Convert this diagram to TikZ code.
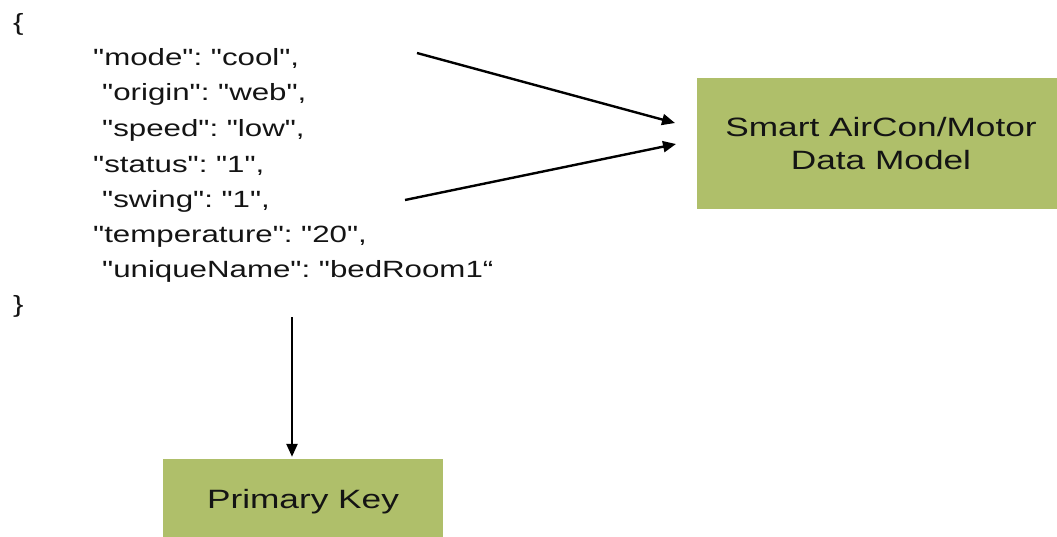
\documentclass[tikz,border=0pt]{standalone}
\usepackage{fontspec}
\setmainfont{Liberation Sans}[FakeStretch=1.33,Ligatures=TeXOff]
\usetikzlibrary{arrows.meta}
\definecolor{boxgreen}{RGB}{175,191,106}
\definecolor{inktext}{RGB}{20,20,20}
\frenchspacing
\begin{document}
\begin{tikzpicture}[x=1pt,y=-1pt,
  jsonline/.style={anchor=base west,inner sep=0pt,text=inktext,
    font=\fontsize{23.5}{35}\selectfont},
  greenbox/.style={rectangle,fill=boxgreen,draw=none,inner sep=0pt,
    align=center,text=inktext,font=\fontsize{26.5}{33}\selectfont},
  link/.style={draw=black,line width=2.4pt,
    -{Triangle[length=13pt,width=11pt]}}]
\useasboundingbox (0,0) rectangle (1057,536);

% JSON record
\node[jsonline] (open)  at (13,30)  {\{};
\node[jsonline] (mode)  at (93,65)  {"mode": "cool",};
\node[jsonline] (orig)  at (102,100) {"origin": "web",};
\node[jsonline] (speed) at (102,136) {"speed": "low",};
\node[jsonline] (stat)  at (93,172) {"status": "1",};
\node[jsonline] (swing) at (102,207) {"swing": "1",};
\node[jsonline] (temp)  at (93,242) {"temperature": "20",};
\node[jsonline] (uname) at (102,277) {"uniqueName": "bedRoom1“};
\node[jsonline] (close) at (13,312) {\}};

% target boxes
\node[greenbox,minimum width=368pt,minimum height=131pt] (model) at (881,143.5)
  {Smart AirCon/Motor\\Data Model};
\node[greenbox,minimum width=280pt,minimum height=86pt] (pkey) at (303,502)
  {Primary Key};

% connector ends
\coordinate (fromtop) at (417,53);
\coordinate (frombot) at (405,200);
\coordinate (intop)   at (675,123);
\coordinate (inbot)   at (676,144);
\coordinate (fromkey) at (292,317);

\draw[link] (fromtop) -- (intop);
\draw[link] (frombot) -- (inbot);
\draw[link,shorten >=2pt] (fromkey) -- (fromkey |- pkey.north);
\end{tikzpicture}
\end{document}
